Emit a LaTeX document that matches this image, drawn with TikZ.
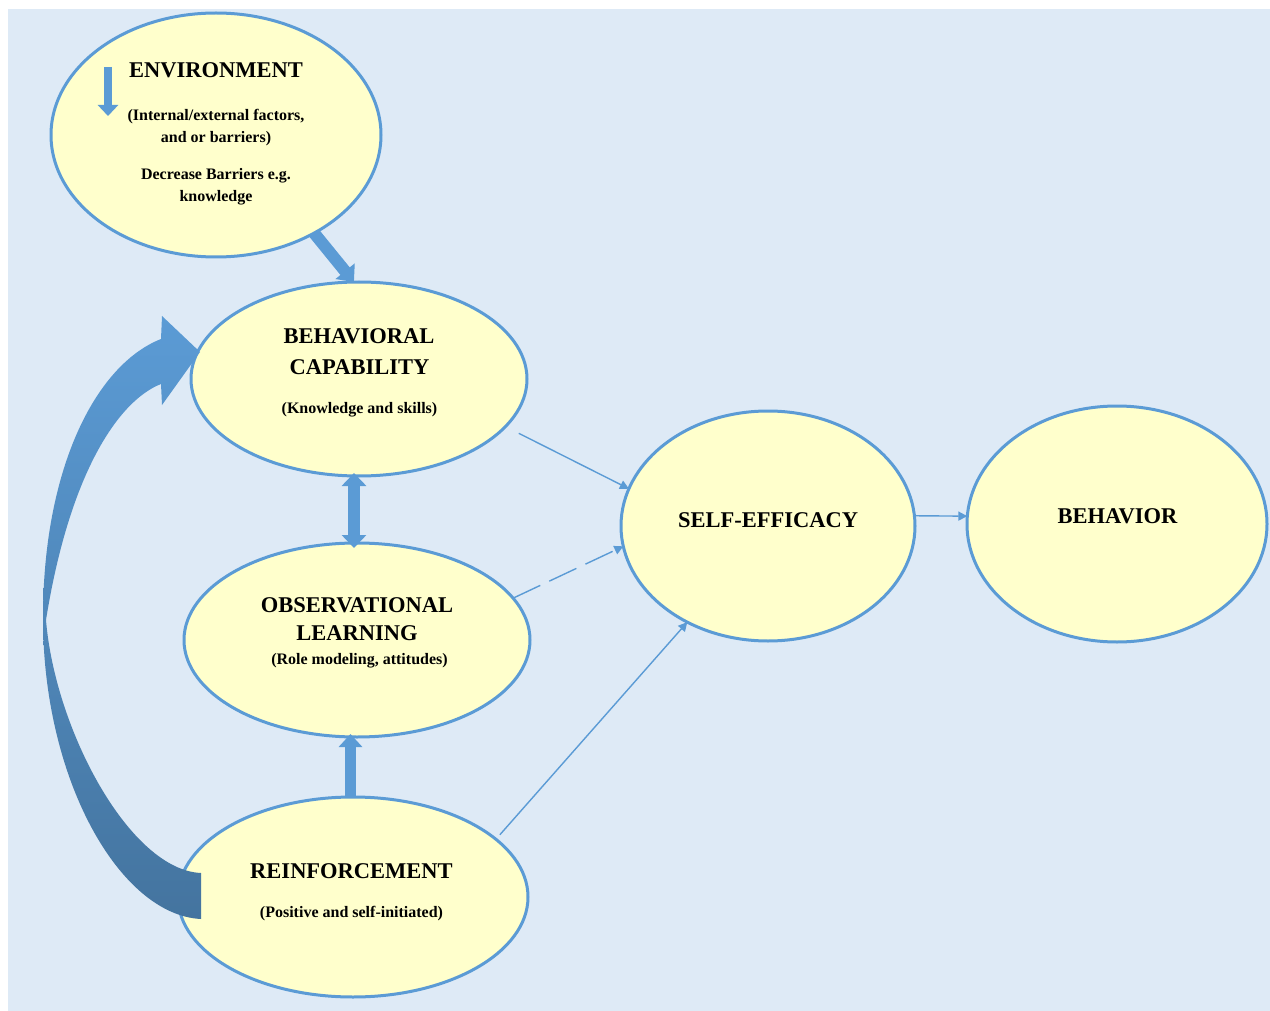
\documentclass[tikz,border=0pt]{standalone}
\usepackage{fontspec}
\setmainfont{Liberation Serif}
\usetikzlibrary{arrows.meta,calc,shapes.geometric}
\definecolor{bgc}{HTML}{DEEAF6}
\definecolor{ellfill}{HTML}{FFFFCC}
\definecolor{edge}{HTML}{5B9BD5}
\definecolor{curvedark}{HTML}{44749F}
\begin{document}
\begin{tikzpicture}[x=1pt,y=-1pt,
  ell/.style={ellipse, draw=edge, fill=ellfill, line width=3pt, inner sep=0pt, outer sep=0pt},
  ttl/.style={font=\fontsize{22.5}{27}\selectfont\bfseries, anchor=base, inner sep=0pt},
  sub/.style={font=\fontsize{16}{19}\selectfont\bfseries, anchor=base, inner sep=0pt},
  thinarrow/.style={draw=edge, line width=1.4pt, -{Triangle[length=9pt,width=9pt]}},
  blockarrow/.style={draw=edge, line width=12pt, -{Triangle[length=14pt,width=24pt]}},
]
\useasboundingbox (0,0) rectangle (1270,1011);
\fill[bgc] (8,9) rectangle (1270,1011);

% ellipses
\node[ell, minimum width=330pt, minimum height=244pt] (env) at (216,135) {};
\node[ell, minimum width=336pt, minimum height=194pt] (bc) at (359,379) {};
\node[ell, minimum width=346pt, minimum height=194pt] (ol) at (357,640) {};
\node[ell, minimum width=350pt, minimum height=200pt] (re) at (353,897) {};
\node[ell, minimum width=294pt, minimum height=230pt] (se) at (768,526) {};
\node[ell, minimum width=300pt, minimum height=236pt] (be) at (1117,524) {};

% big curved arrow from reinforcement to behavioral capability
\shade[top color=edge, bottom color=curvedark]
  (201,919) .. controls (120,915) and (43,780) .. (43,618)
  .. controls (43,470) and (95,365) .. (161,339)
  -- (162,316) -- (200,352) -- (162,405) -- (161,384)
  .. controls (120,400) and (70,470) .. (46,620)
  .. controls (55,730) and (130,870) .. (201,873) -- cycle;

% small arrow inside environment
\draw[draw=edge, line width=8pt, -{Triangle[length=11pt,width=20pt]}] (108,67) -- (108,116);

% block arrows
\draw[blockarrow] (env.-45.6) -- (bc.93.6);
\draw[blockarrow, {Triangle[length=13pt,width=24pt]}-{Triangle[length=13pt,width=24pt]}, shorten <=-3pt, shorten >=-5pt] ($(bc.south)+(-5,0)$) -- ($(ol.north)+(-3,0)$);
\draw[blockarrow, line width=11pt, -{Triangle[length=13pt,width=23pt]}, shorten >=-3pt] ($(re.north)+(-2.5,0)$) -- ($(ol.south)+(-6.5,0)$);

% thin arrows
\draw[thinarrow, shorten <=15pt] (bc.-18.2) -- (se.165.3);
\draw[thinarrow, dash pattern=on 30pt off 10pt] (ol.15.7) -- (se.188);
\draw[thinarrow, shorten <=6pt] (re.22.5) -- (se.230.6);
\draw[thinarrow] (se.4.2) -- (be.177.3);

% texts
\node[ttl] (env-t) at (216,78) {ENVIRONMENT};
\node[sub] (env-s1) at (216,121) {(Internal/external factors,};
\node[sub] (env-s2) at (216,143) {and or barriers)};
\node[sub] (env-s3) at (216,180) {Decrease Barriers e.g.};
\node[sub] (env-s4) at (216,202) {knowledge};

\node[ttl] (bc-t1) at (359,344) {BEHAVIORAL};
\node[ttl] (bc-t2) at (359.5,374) {CAPABILITY};
\node[sub] (bc-s) at (359.5,413) {(Knowledge and skills)};

\node[ttl] (ol-t1) at (357,612) {OBSERVATIONAL};
\node[ttl] (ol-t2) at (357,640) {LEARNING};
\node[sub] (ol-s) at (359.5,664) {(Role modeling, attitudes)};

\node[ttl] (re-t) at (351.5,878) {REINFORCEMENT};
\node[sub] (re-s) at (351.5,917) {(Positive and self-initiated)};

\node[ttl] (se-t) at (768,527) {SELF-EFFICACY};
\node[ttl] (be-t) at (1117.5,523) {BEHAVIOR};
\end{tikzpicture}
\end{document}
